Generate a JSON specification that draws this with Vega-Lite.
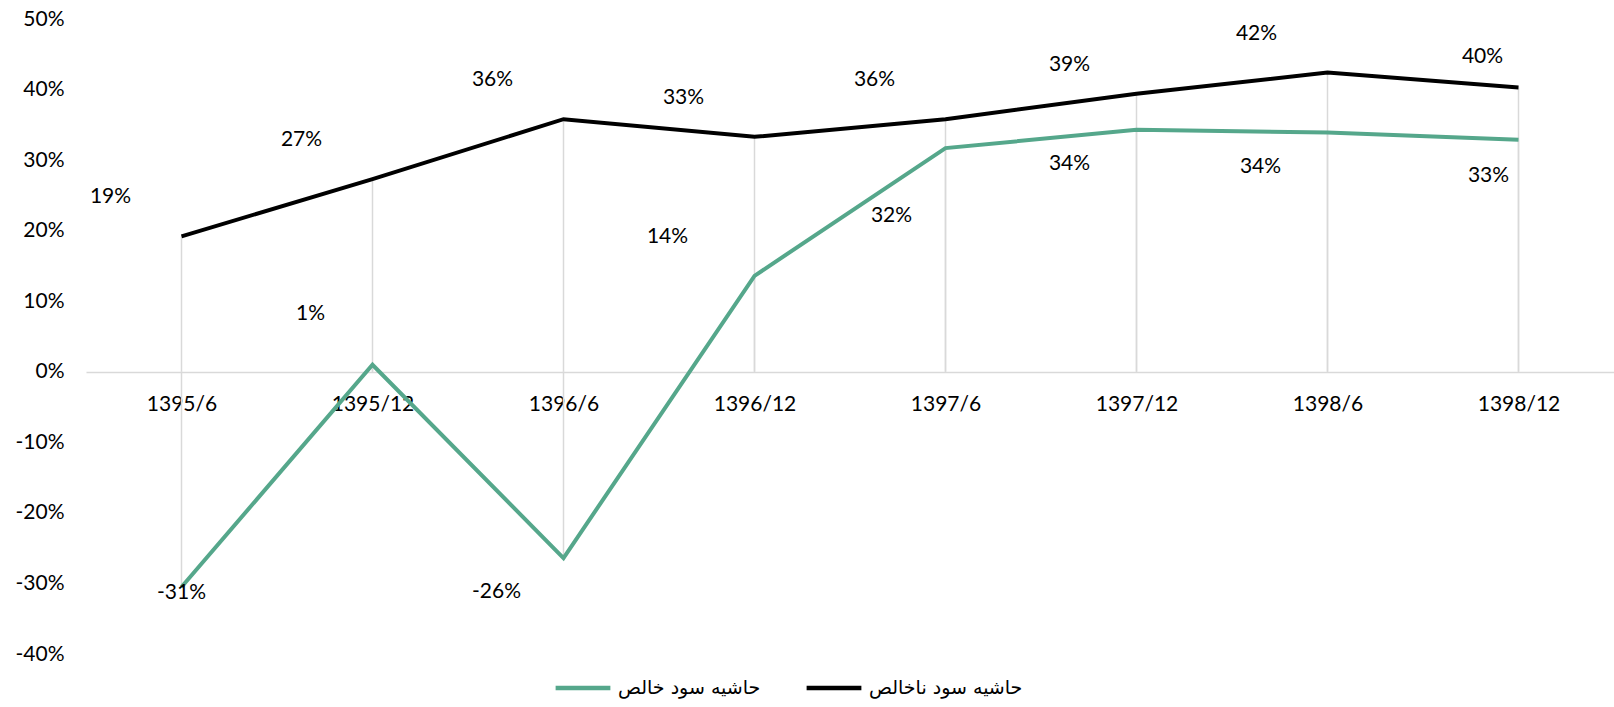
{
  "$schema": "https://vega.github.io/schema/vega-lite/v6.json",
  "width": 1528,
  "height": 635,
  "autosize": {"type": "none"},
  "padding": {"left": 86, "top": 19, "right": 0, "bottom": 53},
  "config": {
    "view": {"stroke": null},
    "font": "Lato",
    "locale": {"number": {"decimal": ".", "thousands": ",", "grouping": [3], "currency": ["", ""], "minus": "-"}}
  },
  "data": {
    "values": [
      {"period": "1395/6", "series": "حاشیه سود ناخالص", "value": 0.192},
      {"period": "1395/12", "series": "حاشیه سود ناخالص", "value": 0.273},
      {"period": "1396/6", "series": "حاشیه سود ناخالص", "value": 0.358},
      {"period": "1396/12", "series": "حاشیه سود ناخالص", "value": 0.333},
      {"period": "1397/6", "series": "حاشیه سود ناخالص", "value": 0.358},
      {"period": "1397/12", "series": "حاشیه سود ناخالص", "value": 0.394},
      {"period": "1398/6", "series": "حاشیه سود ناخالص", "value": 0.424},
      {"period": "1398/12", "series": "حاشیه سود ناخالص", "value": 0.403},
      {"period": "1395/6", "series": "حاشیه سود خالص", "value": -0.305},
      {"period": "1395/12", "series": "حاشیه سود خالص", "value": 0.010},
      {"period": "1396/6", "series": "حاشیه سود خالص", "value": -0.264},
      {"period": "1396/12", "series": "حاشیه سود خالص", "value": 0.136},
      {"period": "1397/6", "series": "حاشیه سود خالص", "value": 0.317},
      {"period": "1397/12", "series": "حاشیه سود خالص", "value": 0.343},
      {"period": "1398/6", "series": "حاشیه سود خالص", "value": 0.339},
      {"period": "1398/12", "series": "حاشیه سود خالص", "value": 0.329}
    ]
  },
  "encoding": {
    "x": {
      "field": "period",
      "type": "ordinal",
      "sort": ["1395/6", "1395/12", "1396/6", "1396/12", "1397/6", "1397/12", "1398/6", "1398/12"],
      "scale": {"type": "point", "padding": 0.5},
      "axis": {
        "title": null,
        "orient": "bottom",
        "offset": -282,
        "domain": true,
        "domainColor": "#D9D9D9",
        "domainWidth": 1.5,
        "ticks": false,
        "grid": false,
        "labelAngle": 0,
        "labelFont": "Lato",
        "labelFontSize": 21,
        "labelColor": "#000000",
        "labelPadding": 21
      }
    },
    "y": {
      "field": "value",
      "type": "quantitative",
      "scale": {"domain": [-0.4, 0.5], "nice": false, "zero": false},
      "axis": {
        "title": null,
        "values": [-0.4, -0.3, -0.2, -0.1, 0, 0.1, 0.2, 0.3, 0.4, 0.5],
        "format": ".0%",
        "domain": false,
        "ticks": false,
        "grid": false,
        "labelFont": "Lato",
        "labelFontSize": 21,
        "labelColor": "#000000",
        "labelPadding": 22
      }
    }
  },
  "layer": [
    {
      "mark": {"type": "rule", "color": "#D9D9D9", "strokeWidth": 1.5},
      "encoding": {"y2": {"datum": 0}}
    },
    {
      "mark": {"type": "line", "strokeWidth": 4},
      "encoding": {
        "color": {
          "field": "series",
          "type": "nominal",
          "scale": {"domain": ["حاشیه سود خالص", "حاشیه سود ناخالص"], "range": ["#55A78B", "#000000"]},
          "legend": {
            "title": null,
            "orient": "none",
            "legendX": 467,
            "legendY": 639,
            "direction": "horizontal",
            "symbolType": "stroke",
            "symbolSize": 3000,
            "symbolStrokeWidth": 4.5,
            "labelFont": "DejaVu Sans",
            "labelFontSize": 19,
            "labelColor": "#000000",
            "labelOffset": 5,
            "columnPadding": 36
          }
        }
      }
    },
    {
      "transform": [{"filter": "datum.series === 'حاشیه سود ناخالص' && datum.period !== '1398/12' && datum.period !== '1397/12'"}],
      "mark": {"type": "text", "dx": -71, "dy": -39, "fontSize": 21, "color": "#000000", "font": "Lato"},
      "encoding": {"text": {"field": "value", "format": ".0%"}}
    },
    {
      "transform": [{"filter": "datum.series === 'حاشیه سود ناخالص' && datum.period === '1397/12'"}],
      "mark": {"type": "text", "dx": -67, "dy": -29, "fontSize": 21, "color": "#000000", "font": "Lato"},
      "encoding": {"text": {"field": "value", "format": ".0%"}}
    },
    {
      "transform": [{"filter": "datum.series === 'حاشیه سود ناخالص' && datum.period === '1398/12'"}],
      "mark": {"type": "text", "dx": -36, "dy": -30, "fontSize": 21, "color": "#000000", "font": "Lato"},
      "encoding": {"text": {"field": "value", "format": ".0%"}}
    },
    {
      "transform": [{"filter": "datum.series === 'حاشیه سود خالص' && datum.period === '1395/6'"}],
      "mark": {"type": "text", "dx": 0, "dy": 6, "fontSize": 21, "color": "#000000", "font": "Lato"},
      "encoding": {"text": {"field": "value", "format": ".0%"}}
    },
    {
      "transform": [{"filter": "datum.series === 'حاشیه سود خالص' && datum.period === '1395/12'"}],
      "mark": {"type": "text", "dx": -62, "dy": -51, "fontSize": 21, "color": "#000000", "font": "Lato"},
      "encoding": {"text": {"field": "value", "format": ".0%"}}
    },
    {
      "transform": [{"filter": "datum.series === 'حاشیه سود خالص' && datum.period === '1396/12'"}],
      "mark": {"type": "text", "dx": -87, "dy": -39, "fontSize": 21, "color": "#000000", "font": "Lato"},
      "encoding": {"text": {"field": "value", "format": ".0%"}}
    },
    {
      "transform": [{"filter": "datum.series === 'حاشیه سود خالص' && (datum.period === '1396/6' || datum.period === '1397/12' || datum.period === '1398/6')"}],
      "mark": {"type": "text", "dx": -67, "dy": 34, "fontSize": 21, "color": "#000000", "font": "Lato"},
      "encoding": {"text": {"field": "value", "format": ".0%"}}
    },
    {
      "transform": [{"filter": "datum.series === 'حاشیه سود خالص' && datum.period === '1397/6'"}],
      "mark": {"type": "text", "dx": -54, "dy": 68, "fontSize": 21, "color": "#000000", "font": "Lato"},
      "encoding": {"text": {"field": "value", "format": ".0%"}}
    },
    {
      "transform": [{"filter": "datum.series === 'حاشیه سود خالص' && datum.period === '1398/12'"}],
      "mark": {"type": "text", "dx": -30, "dy": 36, "fontSize": 21, "color": "#000000", "font": "Lato"},
      "encoding": {"text": {"field": "value", "format": ".0%"}}
    }
  ]
}
